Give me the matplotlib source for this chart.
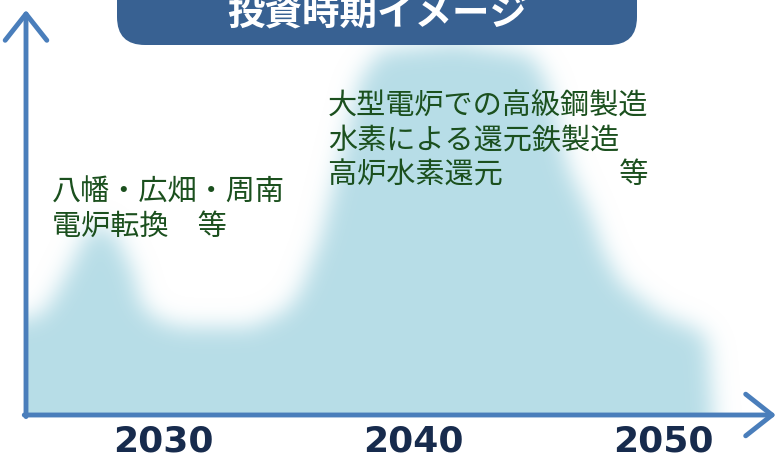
import numpy as np
import matplotlib.pyplot as plt
from matplotlib.patches import FancyBboxPatch

plt.rcParams['font.family'] = ['Noto Sans CJK JP', 'DejaVu Sans']

# Investment timing profile (year, relative level).
years = [2024.5, 2025.1, 2025.6, 2026.2, 2026.9, 2027.5, 2028.1, 2028.8,
         2029.1, 2029.7, 2030.7, 2033.5, 2034.9, 2035.5, 2036.3, 2037.1,
         2037.9, 2038.7, 2041.7, 2044.7, 2045.3, 2045.7, 2046.2, 2047.1,
         2047.6, 2048.3, 2049.9, 2051.5, 2051.8, 2052.0]
level = [24, 25, 29, 36, 45, 48, 45, 36,
         28, 24, 22, 22, 26, 31, 44, 64,
         84, 91, 93, 90, 84, 75, 62, 50,
         41, 33, 25, 21, 18, 0]
tick_years = [2030, 2040, 2050]
title = '投資時期イメージ'
note_left = '八幡・広畑・周南\n電炉転換　等'
note_right = '大型電炉での高級鋼製造\n水素による還元鉄製造\n高炉水素還元　　　　等'

W, H = 778, 457
px_per_year = 25.0
px_per_unit = 4.0
base_px = 415          # baseline row from top
x0 = 2030 - 163 / px_per_year
x1 = x0 + W / px_per_year
y_top = base_px / px_per_unit
y_bot = -(H - base_px) / px_per_unit
x_axis = x0 + 26 / px_per_year

fig = plt.figure(figsize=(W / 100, H / 100), dpi=100)
ax = fig.add_axes([0, 0, 1, 1])
ax.set_xlim(x0, x1)
ax.set_ylim(y_bot, y_top)
ax.axis('off')

# soft (blurred) area
pad = 50
cols = np.arange(-pad, W + pad) + 0.5
rows = np.arange(-pad, H + pad) + 0.5
xs = x0 + cols / px_per_year
ys = (base_px - rows) / px_per_unit
prof = np.interp(xs, years, level, left=level[0], right=0)
mask = ((ys[:, None] <= prof[None, :]) & (prof[None, :] > 0)).astype(float)

sigma = 11.0
k = np.arange(-int(4 * sigma), int(4 * sigma) + 1)
kern = np.exp(-0.5 * (k / sigma) ** 2)
kern /= kern.sum()
mask = np.apply_along_axis(lambda r: np.convolve(r, kern, mode='same'), 1, mask)
mask = np.apply_along_axis(lambda c: np.convolve(c, kern, mode='same'), 0, mask)

c0 = pad + 26
crop = mask[pad:pad + base_px, c0:pad + W]
rgba = np.zeros(crop.shape + (4,))
rgba[..., 0] = 183 / 255
rgba[..., 1] = 221 / 255
rgba[..., 2] = 231 / 255
rgba[..., 3] = np.clip(crop, 0, 1)
ax.imshow(rgba, extent=[x_axis, x1, 0, y_top], aspect='auto',
          interpolation='bilinear', zorder=1)

# axes arrows
axis_col = '#4A7EBB'
arrow = dict(arrowstyle='->,head_length=0.95,head_width=0.75', lw=3.5,
             color=axis_col, shrinkA=0, shrinkB=0, mutation_scale=20,
             capstyle='round', joinstyle='round')
ax.annotate('', xy=(x0 + 776 / px_per_year, 0), xytext=(x_axis - 0.07, 0),
            arrowprops=arrow, zorder=3)
ax.annotate('', xy=(x_axis, (base_px - 10) / px_per_unit), xytext=(x_axis, -0.4),
            arrowprops=arrow, zorder=3)

for yr in tick_years:
    ax.text(yr, -6.5, str(yr), ha='center', va='center', fontsize=26,
            fontweight='bold', family='DejaVu Sans', color='#172B4D')

green = '#1B501E'
ax.text(52 / W, 1 - 210 / H, note_left, transform=ax.transAxes, fontsize=21,
        color=green, ha='left', va='center', linespacing=1.2, zorder=4)
ax.text(328 / W, 1 - 141 / H, note_right, transform=ax.transAxes, fontsize=21,
        color=green, ha='left', va='center', linespacing=1.2, zorder=4)

# title pill
tax = fig.add_axes([117 / W, 1 - 45 / H, 520 / W, 80 / H])
tax.set_xlim(0, 520)
tax.set_ylim(0, 80)
tax.axis('off')
tax.add_patch(FancyBboxPatch((0, 0), 520, 80, boxstyle='round,pad=0,rounding_size=28',
                             fc='#386192', ec='none', clip_on=False))
tax.text(260, 31, title, ha='center', va='center', fontsize=27,
         fontweight='bold', color='white', clip_on=False)

fig.savefig('out.png', dpi=100)
